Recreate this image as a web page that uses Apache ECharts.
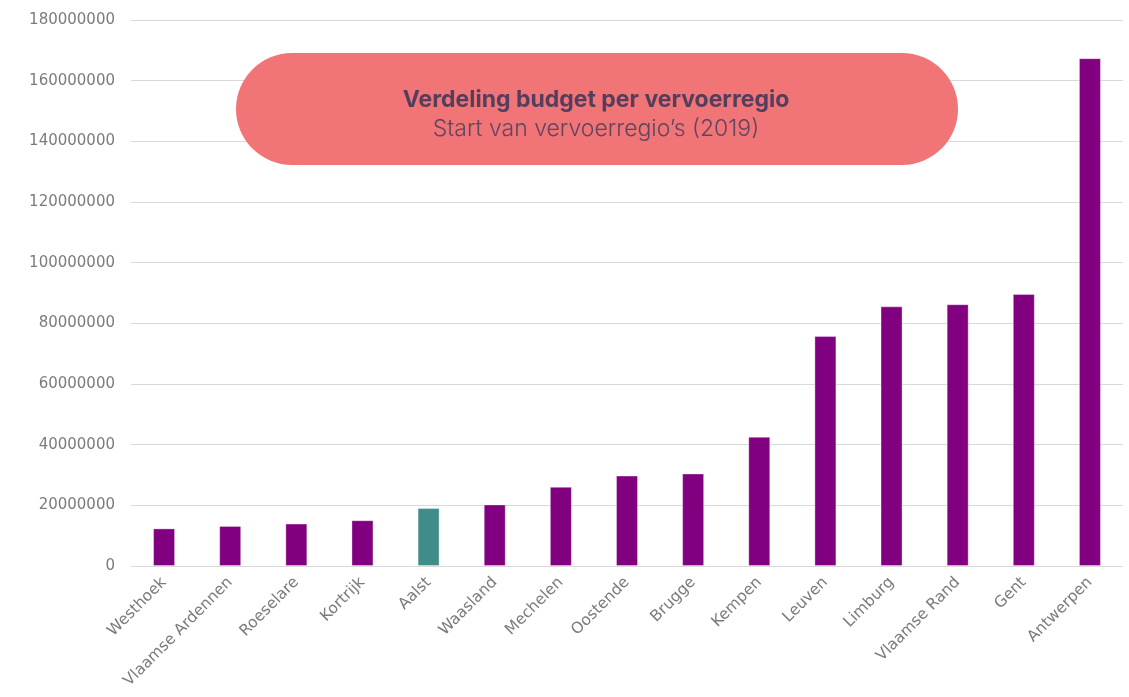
<!DOCTYPE html>
<html>
<head>
<meta charset="utf-8">
<script src="https://cdn.jsdelivr.net/npm/echarts@6/dist/echarts.min.js"></script>
<style>
html,body{margin:0;padding:0;background:#fff;}
#chart{width:1129px;height:697px;}
</style>
</head>
<body>
<div id="chart"></div>
<script>
const categories = ['Westhoek','Vlaamse Ardennen','Roeselare','Kortrijk','Aalst','Waasland','Mechelen','Oostende','Brugge','Kempen','Leuven','Limburg','Vlaamse Rand','Gent','Antwerpen'];
const budget = [12400000,13200000,14000000,15100000,19100000,20300000,26100000,29800000,30500000,42600000,75800000,85600000,86300000,89700000,167400000];
const highlighted = 'Aalst';
const titleText = 'Verdeling budget per vervoerregio';
const subtitleText = 'Start van vervoerregio\u2019s (2019)';

const axisFont = "'DejaVu Sans', Verdana, sans-serif";
const chart = echarts.init(document.getElementById('chart'));
chart.setOption({
  animation: false,
  backgroundColor: '#ffffff',
  grid: {left: 131, right: 6, top: 20, bottom: 131},
  title: {
    text: titleText,
    subtext: subtitleText,
    left: 591, top: 84, textAlign: 'center', itemGap: 6, z: 10,
    textStyle: {fontFamily: 'Inter', fontWeight: 'bold', fontSize: 23, color: '#553d5e'},
    subtextStyle: {fontFamily: 'Inter', fontWeight: 300, fontSize: 23, color: '#5e4560'}
  },
  graphic: [{
    type: 'rect', left: 236, top: 53, z: 5, silent: true,
    shape: {width: 722, height: 112, r: 56},
    style: {fill: '#f17476'}
  }],
  xAxis: {
    type: 'category', data: categories,
    axisLine: {show: false}, axisTick: {show: false},
    axisLabel: {rotate: 45, fontFamily: axisFont, fontSize: 15.5, color: '#7b7b7b', margin: 14, interval: 0}
  },
  yAxis: {
    type: 'value', min: 0, max: 180000000, interval: 20000000,
    axisLine: {show: false}, axisTick: {show: false},
    splitLine: {lineStyle: {color: '#d9d9d9', width: 1}},
    axisLabel: {fontFamily: axisFont, fontSize: 15, color: '#7b7b7b', margin: 16, formatter: v => String(v)}
  },
  series: [{
    type: 'bar', barWidth: 22, z: 1,
    data: budget.map((v, i) => ({
      value: v,
      itemStyle: {color: categories[i] === highlighted ? '#3f8c88' : '#800080'}
    })),
    itemStyle: {borderColor: 'rgba(255,255,255,0.35)', borderWidth: 1}
  }]
});
</script>
</body>
</html>
